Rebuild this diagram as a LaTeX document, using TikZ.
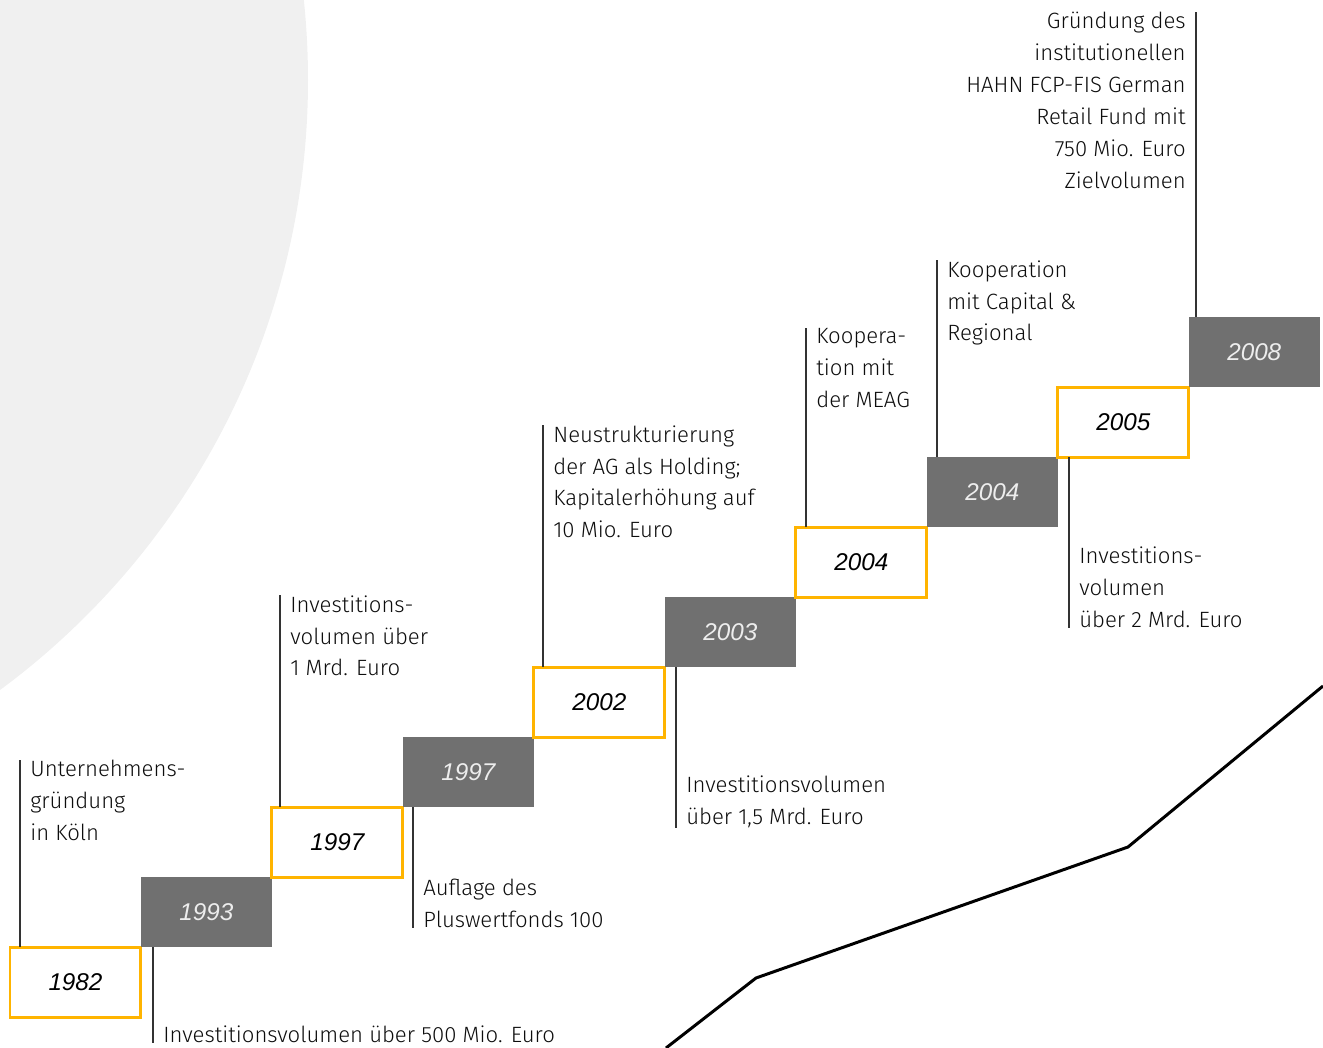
\documentclass[tikz,border=0pt]{standalone}
\usepackage{fontspec}
\setmainfont{Liberation Sans}
\newfontfamily\notefont{Fira Sans Light}
\usetikzlibrary{positioning}
\definecolor{hahnorange}{HTML}{FFB400}
\definecolor{hahngray}{HTML}{707070}
\definecolor{circlegray}{HTML}{F0F0F0}

\begin{document}
\begin{tikzpicture}[
  x=0.02cm, y=-0.02cm,
  box/.style={minimum width=2.62cm, minimum height=1.4cm, inner sep=0pt, outer sep=0pt,
    font=\fontsize{13.8}{16}\selectfont\itshape},
  lightbox/.style={box, draw=hahnorange, line width=1.7pt, fill=white, text=black},
  darkbox/.style={box, fill=hahngray, text=white!93!black},
  note/.style={inner xsep=0.2cm, inner ysep=0pt, align=left, text=black!95,
    font=\notefont\fontsize{12.6}{18.2}\selectfont},
  stem/.style={draw=black!80, line width=0.7pt}
]
\useasboundingbox (0,0) rectangle (1323,1048);
% background arc
\begin{scope}
  \clip (0,0) rectangle (1323,1048);
  \fill[circlegray] (-450,80) circle[radius=758];
\end{scope}
% growth curve
\draw[line width=1.7pt] (666,1048) -- (756,978) -- (1128,847) -- (1323,686);

% stairs
\node[lightbox, anchor=south west] (b1) at (10,1017) {1982};
\node[darkbox, above right=0pt and 0pt of b1] (b2) {1993};
\node[lightbox, above right=0pt and 0pt of b2] (b3) {1997};
\node[darkbox, above right=0pt and 0pt of b3] (b4) {1997};
\node[lightbox, above right=0pt and 0pt of b4] (b5) {2002};
\node[darkbox, above right=0pt and 0pt of b5] (b6) {2003};
\node[lightbox, above right=0pt and 0pt of b6] (b7) {2004};
\node[darkbox, above right=0pt and 0pt of b7] (b8) {2004};
\node[lightbox, above right=0pt and 0pt of b8] (b9) {2005};
\node[darkbox, above right=0pt and 0pt of b9] (b10) {2008};

% notes above
\node[note, anchor=north west] (t1) at (20,760) {Unternehmens-\\gründung\\in Köln};
\node[note, anchor=north west] (t3) at (280,595) {Investitions-\\volumen über\\1 Mrd. Euro};
\node[note, anchor=north west] (t5) at (543,425) {Neustrukturierung\\der AG als Holding;\\Kapitalerhöhung auf\\10 Mio. Euro};
\node[note, anchor=north west] (t7) at (806,328) {Koopera-\\tion mit\\der MEAG};
\node[note, anchor=north west] (t8) at (937,260) {Kooperation\\mit Capital \&\\Regional};
\node[note, anchor=north east, align=right] (t10) at (1196,12) {Gründung des\\institutionellen\\HAHN FCP-FIS German\\Retail Fund mit\\750 Mio. Euro\\Zielvolumen};
\draw[stem] (t1.north west) -- (t1.north west |- b1.north);
\draw[stem] (t3.north west) -- (t3.north west |- b3.north);
\draw[stem] (t5.north west) -- (t5.north west |- b5.north);
\draw[stem] (t7.north west) -- (t7.north west |- b7.north);
\draw[stem] (t8.north west) -- (t8.north west |- b8.north);
\draw[stem] (t10.north east) -- (t10.north east |- b10.north);

% notes below
\node[note, anchor=south west] (t2) at (153,1043) {Investitionsvolumen über 500 Mio. Euro};
\node[note, anchor=south west] (t4) at (413,928) {Auflage des\\Pluswertfonds 100};
\node[note, anchor=south west] (t6) at (676,828) {Investitionsvolumen\\über 1,5 Mrd. Euro};
\node[note, anchor=south west] (t9) at (1069,628) {Investitions-\\volumen\\über 2 Mrd. Euro};
\draw[stem] (t2.south west |- b2.south) -- (t2.south west);
\draw[stem] (t4.south west |- b4.south) -- (t4.south west);
\draw[stem] (t6.south west |- b6.south) -- (t6.south west);
\draw[stem] (t9.south west |- b9.south) -- (t9.south west);
\end{tikzpicture}
\end{document}
